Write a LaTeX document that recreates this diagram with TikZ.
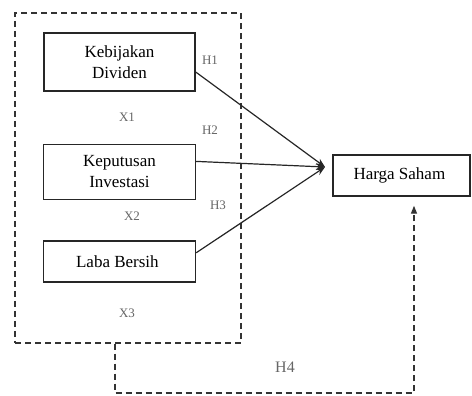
\documentclass[tikz,border=0pt]{standalone}
\usepackage{fontspec}
\setmainfont{Liberation Serif}
\usetikzlibrary{shapes, arrows.meta, positioning}

\begin{document}
\begin{tikzpicture}[
    x=1pt, y=-1pt,
    box/.style={
        rectangle,
        draw=black!85, line width=1.4pt,
        inner sep=0pt,
        align=center,
        font=\fontsize{17}{21}\selectfont
    },
    group/.style={
        rectangle,
        draw=black!80, line width=1.4pt,
        dash pattern=on 6pt off 4pt,
        inner sep=0pt,
        minimum width=226pt, minimum height=330pt
    },
    lbl/.style={text=black!60, inner sep=0pt, font=\fontsize{13}{15}\selectfont},
    arrow/.style={-{Stealth[length=9pt, width=7pt]}, line width=1.2pt, black!85},
    dasharrow/.style={-{Triangle[length=8pt, width=6pt]}, line width=1.4pt, black!80,
        dash pattern=on 6pt off 4pt}
]
\useasboundingbox (0,0) rectangle (472,396);

% Nodes
\node[group] (grp) at (128,178) {};

\node[box, minimum width=151pt, minimum height=58pt] (div) at (119.5,62) {%
Kebijakan\\
Dividen
};

\node[box, minimum width=152pt, minimum height=55pt, below=52pt of div.south, anchor=north] (inv) {%
Keputusan\\
Investasi
};

\node[box, minimum width=152pt, minimum height=41pt, below=40pt of inv.south, anchor=north] (laba) {%
Laba Bersih
};

\node[box, minimum width=137pt, minimum height=41pt] (harga) at (401.5,175.5) {%
Harga Saham
};

% Labels
\node[lbl] (x1) at (127,117) {X1};
\node[lbl] (x2) at (132,216) {X2};
\node[lbl] (x3) at (127,313) {X3};
\node[lbl] (h1) at (210,60) {H1};
\node[lbl] (h2) at (210,130) {H2};
\node[lbl] (h3) at (218,205) {H3};
\node[lbl, font=\fontsize{16}{18}\selectfont] (h4) at (285,367) {H4};

\coordinate (tip) at (325,167);
\coordinate (corner) at (115,393);

% Arrows
\draw[arrow] ([yshift=-10pt]div.east) -- (tip);
\draw[arrow] ([yshift=10.5pt]inv.east) -- (tip);
\draw[arrow] ([yshift=8.5pt]laba.east) -- (tip);
\draw[dasharrow] (grp.south -| corner) -- (corner)
    -| ([xshift=12.5pt, yshift=-9pt]harga.south);

\end{tikzpicture}
\end{document}
